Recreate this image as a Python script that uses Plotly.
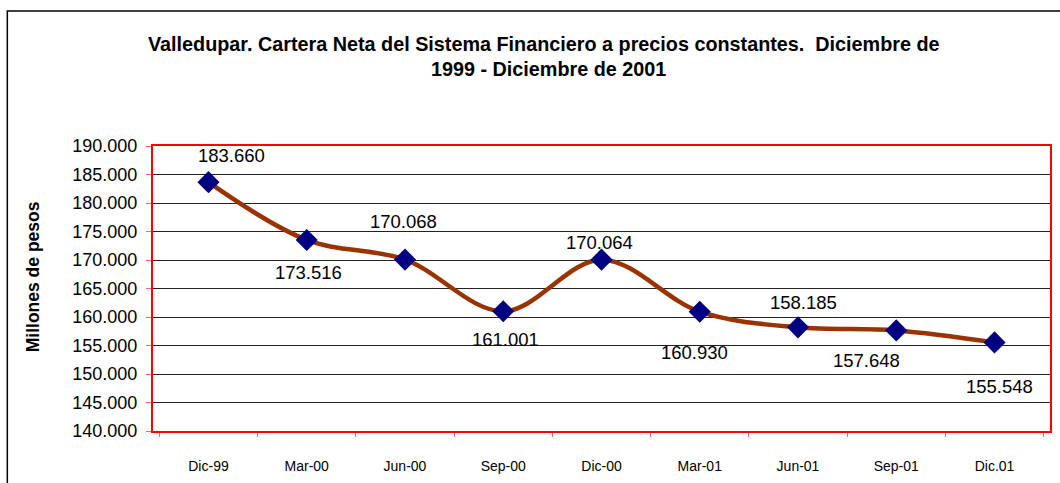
import plotly.graph_objects as go

categories = ["Dic-99", "Mar-00", "Jun-00", "Sep-00", "Dic-00", "Mar-01", "Jun-01", "Sep-01", "Dic.01"]
values = [183660, 173516, 170068, 161001, 170064, 160930, 158185, 157648, 155548]
value_labels = ["183.660", "173.516", "170.068", "161.001", "170.064", "160.930", "158.185", "157.648", "155.548"]
label_offsets = [(23, 27), (2, -33), (-1, 38), (2, -28), (-2, 17), (-5, -41), (5, 25), (-30, -30), (5, -44)]
y_ticks = list(range(140000, 190001, 5000))
y_tick_text = [f"{v:,}".replace(",", ".") for v in y_ticks]

W, H = 1060, 483
L, R, T, B = 153, 1052, 146, 431

def px(x):
    return (x - L) / (R - L)

def py(y):
    return (B - y) / (B - T)

FONT = "Liberation Sans, Arial"

fig = go.Figure()
fig.add_trace(go.Scatter(
    x=categories, y=values, mode="lines+markers",
    line=dict(color="#993300", width=4.5, shape="spline", smoothing=1),
    marker=dict(symbol="diamond", size=17, color="#000080", line=dict(width=0)),
    hoverinfo="skip", showlegend=False,
))

annotations = []
for c, v, t, (dx, dy) in zip(categories, values, value_labels, label_offsets):
    annotations.append(dict(x=c, y=v, text=t, showarrow=False, xshift=dx, yshift=dy,
                            font=dict(family=FONT, size=18.5, color="black")))

annotations.append(dict(xref="paper", yref="paper", x=px(545), y=py(44), text="<b>Valledupar. Cartera Neta del Sistema Financiero a precios constantes.  Diciembre de</b>",
                        showarrow=False, xanchor="center", yanchor="middle",
                        font=dict(family=FONT, size=19.8, color="black")))
annotations.append(dict(xref="paper", yref="paper", x=px(549), y=py(69), text="<b>1999 - Diciembre de 2001</b>",
                        showarrow=False, xanchor="center", yanchor="middle",
                        font=dict(family=FONT, size=19.8, color="black")))
annotations.append(dict(xref="paper", yref="paper", x=px(33), y=py(277), text="<b>Millones de pesos</b>",
                        showarrow=False, xanchor="center", yanchor="middle", textangle=-90,
                        font=dict(family=FONT, size=17.5, color="black")))

shapes = [dict(type="rect", xref="paper", yref="paper",
               x0=px(7), x1=px(1065), y0=py(490), y1=py(11),
               line=dict(color="black", width=1.5), layer="below")]

fig.update_layout(
    width=W, height=H,
    margin=dict(l=L, r=W - R, t=T, b=H - B, pad=0),
    paper_bgcolor="white", plot_bgcolor="white",
    annotations=annotations, shapes=shapes,
    xaxis=dict(type="category", showgrid=False, showline=True, mirror=True,
               linecolor="#FF0000", linewidth=2, ticks="outside", tickson="boundaries",
               ticklen=4, tickcolor="#FF6666", tickwidth=1,
               tickfont=dict(family=FONT, size=14, color="black"),
               ticklabelstandoff=21, zeroline=False, fixedrange=True),
    yaxis=dict(range=[140000, 190000], tickvals=y_ticks, ticktext=y_tick_text,
               showgrid=True, gridcolor="#222222", gridwidth=1,
               showline=True, mirror=True, linecolor="#FF0000", linewidth=2,
               ticks="outside", ticklen=5, tickcolor="#FF6666", tickwidth=1,
               tickfont=dict(family=FONT, size=18, color="black"),
               ticklabelstandoff=5, zeroline=False, fixedrange=True),
)

fig.write_html("out.html", config={"displayModeBar": False},
               post_script="document.body.style.margin='0px';document.body.style.padding='0px';")
